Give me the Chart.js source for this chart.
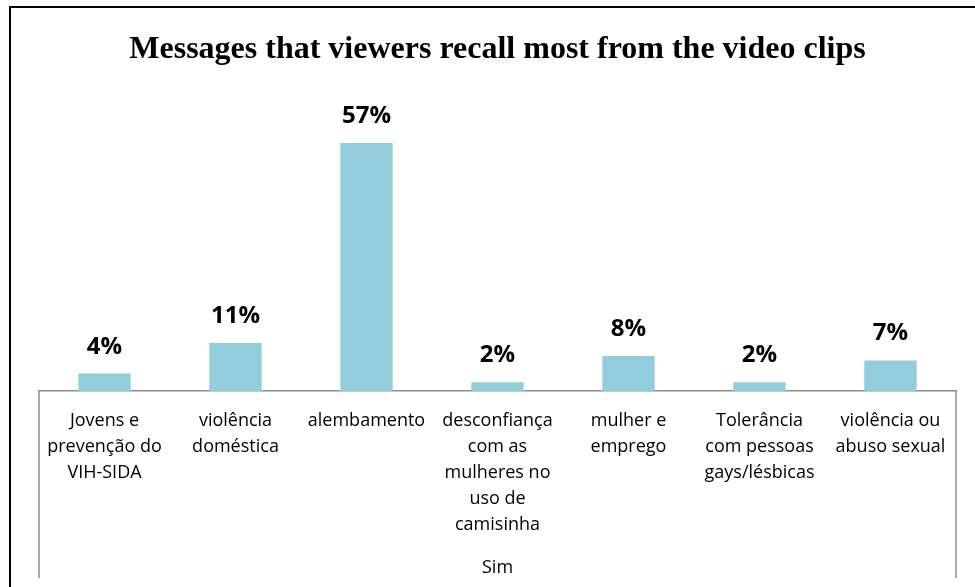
<!DOCTYPE html>
<html>
<head>
<meta charset="utf-8">
<script src="https://cdn.jsdelivr.net/npm/chart.js@4"></script>
<style>
    html, body { margin: 0; padding: 0; background: #fff; }
    #wrap { position: relative; width: 975px; height: 587px; }
    #frame {
        position: absolute; left: 9px; top: 6px; right: 0; bottom: 0;
        border-left: 2px solid #000; border-top: 2px solid #000;
    }
    canvas { position: absolute; left: 0; top: 0; }
</style>
</head>
<body>
<div id="wrap">
    <div id="frame"></div>
    <canvas id="chart" width="975" height="587"></canvas>
</div>
<script>
const categories = [
    ['Jovens e', 'prevenção do', 'VIH-SIDA'],
    ['violência', 'doméstica'],
    ['alembamento'],
    ['desconfiança', 'com as', 'mulheres no', 'uso de', 'camisinha'],
    ['mulher e', 'emprego'],
    ['Tolerância', 'com pessoas', 'gays/lésbicas'],
    ['violência ou', 'abuso sexual']
];
const percentages = [4, 11, 57, 2, 8, 2, 7];
const groupLabel = 'Sim';

const labelFont = '"Open Sans", sans-serif';

// value labels above each bar
const valueLabels = {
    id: 'valueLabels',
    afterDatasetsDraw(chart) {
        const ctx = chart.ctx;
        const meta = chart.getDatasetMeta(0);
        ctx.save();
        ctx.font = 'bold 24px ' + labelFont;
        ctx.fillStyle = '#000';
        ctx.textAlign = 'center';
        ctx.textBaseline = 'alphabetic';
        meta.data.forEach((bar, i) => {
            ctx.fillText(percentages[i] + '%', bar.x, bar.y - 20);
        });
        ctx.restore();
    }
};

// vertical edges of the category axis box
const axisBox = {
    id: 'axisBox',
    afterDraw(chart) {
        const { ctx, chartArea } = chart;
        ctx.save();
        ctx.strokeStyle = '#8c8c8c';
        ctx.lineWidth = 1.5;
        [chartArea.left, chartArea.right].forEach(x => {
            ctx.beginPath();
            ctx.moveTo(x, chartArea.bottom);
            ctx.lineTo(x, 578);
            ctx.stroke();
        });
        ctx.restore();
    }
};

new Chart(document.getElementById('chart').getContext('2d'), {
    type: 'bar',
    data: {
        labels: categories,
        datasets: [{
            data: percentages,
            backgroundColor: '#92cddc',
            barPercentage: 0.4,
            categoryPercentage: 1
        }]
    },
    options: {
        responsive: false,
        animation: false,
        layout: { padding: { left: 39, right: 19, top: 0, bottom: 0 } },
        plugins: {
            legend: { display: false },
            tooltip: { enabled: false },
            title: {
                display: true,
                text: 'Messages that viewers recall most from the video clips',
                color: '#000',
                font: { family: '"Liberation Serif", "Times New Roman", serif', size: 32, weight: 'bold' },
                padding: { top: 31, bottom: 60.6 }
            }
        },
        scales: {
            x: {
                grid: { display: false, drawTicks: false },
                border: { display: true, color: '#8c8c8c', width: 1.5 },
                ticks: {
                    color: '#000',
                    padding: 17,
                    maxRotation: 0,
                    autoSkip: false,
                    font: { family: labelFont, size: 18, lineHeight: 1.45 }
                },
                title: {
                    display: true,
                    text: groupLabel,
                    color: '#000',
                    font: { family: labelFont, size: 18 },
                    padding: { top: 2, bottom: 8 }
                }
            },
            y: {
                display: false,
                min: 0,
                max: 60
            }
        }
    },
    plugins: [valueLabels, axisBox]
});
</script>
</body>
</html>
